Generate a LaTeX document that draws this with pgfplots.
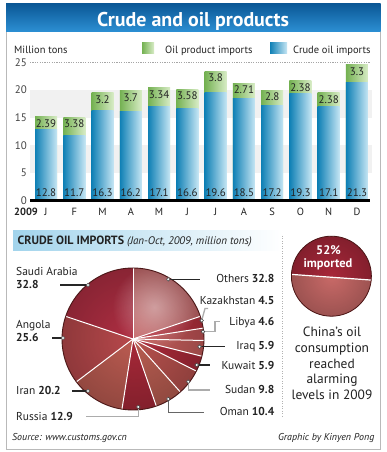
\documentclass[border=0pt]{standalone}
\usepackage{fontspec}
\setmainfont{PT Sans}
\usepackage{pgfplots}
\usepackage{pgfplotstable}
\pgfplotsset{compat=1.18}
\usetikzlibrary{fadings}
\definecolor{bannerTop}{HTML}{0B5896}
\definecolor{bannerBot}{HTML}{2C8FD3}
\definecolor{bL}{HTML}{0F80B5}
\definecolor{bM}{HTML}{52AFDA}
\definecolor{bR}{HTML}{C6E6F4}
\definecolor{gL}{HTML}{74B152}
\definecolor{gM}{HTML}{ACD58E}
\definecolor{gR}{HTML}{D8ECC6}
\definecolor{band}{HTML}{F1F1F1}
\definecolor{txt}{HTML}{222222}
\definecolor{hdr}{HTML}{A2D4EC}
\definecolor{pOth}{HTML}{C86A6C}
\definecolor{pKaz}{HTML}{B8323F}
\definecolor{pLib}{HTML}{C25457}
\definecolor{pIrq}{HTML}{C65E5C}
\definecolor{pKuw}{HTML}{AC2A3A}
\definecolor{pSud}{HTML}{B8524E}
\definecolor{pOma}{HTML}{BA5E52}
\definecolor{pRus}{HTML}{A82939}
\definecolor{pIra}{HTML}{BC5C52}
\definecolor{pAng}{HTML}{B8494C}
\definecolor{pSau}{HTML}{B02F43}
\definecolor{pEdge}{HTML}{4A1616}
\definecolor{spDark}{HTML}{A8283A}
\definecolor{spLight}{HTML}{C96A68}
\tikzfading[name=hl, inner color=transparent!60, outer color=transparent!100]
\tikzfading[name=rim, inner color=transparent!100, outer color=transparent!78]
\tikzset{px/.style={x=1bp,y=-1bp,yshift=452bp},
  bl/.style={line width=1.3bp, black!85},
  gl/.style={line width=1.3bp, gray!65},
  dot/.style={fill=white, draw=black!70, line width=0.6bp}}
\newcommand{\fs}[1]{\fontsize{#1}{#1}\selectfont}
\pgfplotstableread{
x crude prod
0 12.8 2.39
1 11.7 3.38
2 16.3 3.2
3 16.2 3.7
4 17.1 3.34
5 16.6 3.58
6 19.6 3.8
7 18.5 2.71
8 17.2 2.8
9 19.3 2.38
10 17.1 2.38
11 21.3 3.3
}\imports
\begin{document}
\begin{tikzpicture}
\path[use as bounding box] (0,0) rectangle (387bp,452bp);
\begin{scope}[px]
  \fill[white] (0,0) rectangle (387,452);
  \draw[gray!55, line width=0.8] (6,4) rectangle (380.5,449.5);
  \shade[top color=bannerTop, bottom color=bannerBot] (6,4) rectangle (380.5,31.5);
  \node[anchor=base, text=white, inner sep=0] at (193,26.5) {\fs{20}\bfseries Crude and oil products};
  \node[anchor=base west, inner sep=0, text=txt] at (14,53.3) {\fs{10.5}Million tons};
  \shade[left color=gL, right color=gR] (142,43) rectangle (154,54);
  \node[anchor=base west, inner sep=0, text=txt] at (165,53.3) {\fs{10.5}Oil product imports};
  \shade[left color=bL, right color=bR] (270,43) rectangle (287,54);
  \node[anchor=base west, inner sep=0, text=txt] at (293,53.3) {\fs{10.5}Crude oil imports};
  \fill[band] (30,145.3) rectangle (372,172.9);
  \fill[band] (30,90.1) rectangle (372,117.7);
  \draw[gray!70, dash pattern=on 1.2bp off 1.2bp, line width=0.6] (30,62.5) -- (370,62.5);
  \node[anchor=base west, inner sep=0, text=txt] at (14,215.5) {\fs{10.5}\bfseries 2009};
\end{scope}

\begin{axis}[
  at={(30bp,251.5bp)}, anchor=south west, scale only axis,
  width=340bp, height=138bp,
  xmin=-0.566, xmax=11.46, ymin=0, ymax=25,
  bar width=22bp, bar shift=0pt,
  axis line style={draw=none}, tick style={draw=none},
  xtick={0,...,11}, xticklabels={J,F,M,A,M,J,J,A,S,O,N,D},
  ytick={0,5,...,25},
  xticklabel style={anchor=base, yshift=-15bp, font=\fs{10.5}, text=txt},
  yticklabel style={anchor=east, inner sep=0pt, xshift=-3bp, font=\fs{11}, text=txt!85},
  /pgf/number format/assume math mode=true,
  clip=false,
]
\pgfplotsinvokeforeach{0,...,11}{
  \addplot[ybar, draw=none, left color=gL, middle color=gM, right color=gR,
    restrict x to domain=#1:#1]
    table[x=x, y expr=\thisrow{crude}+\thisrow{prod}] {\imports};
  \addplot[ybar, draw=none, left color=bL, middle color=bM, right color=bR,
    restrict x to domain=#1:#1]
    table[x=x, y=crude] {\imports};
}
\addplot[draw=none, mark=none, nodes near coords, point meta=explicit symbolic,
  every node near coord/.style={anchor=base, inner sep=0pt, font=\fs{11}, text=txt, yshift=4bp}]
  table[x=x, y expr=0, meta=crude] {\imports};
\addplot[draw=none, mark=none, nodes near coords, point meta=explicit symbolic,
  every node near coord/.style={anchor=north, inner sep=0pt, font=\fs{11}, text=txt, yshift=-2.5bp}]
  table[x=x, y expr=\thisrow{crude}+\thisrow{prod}, meta=prod] {\imports};
\end{axis}

\begin{scope}[px]
  \draw[black, line width=2.6] (30,200.5) -- (370,200.5);
  \shade[left color=hdr, right color=white] (13,231) rectangle (282,251);
  \node[anchor=base west, inner sep=0, text=txt] at (17.5,244.3) {\fs{12}\bfseries CRUDE OIL IMPORTS \fs{11}\mdseries\itshape (Jan-Oct, 2009, million tons)};
  \draw[gray!60, dash pattern=on 1bp off 1.5bp, line width=0.7] (282,236) -- (282,417);
\end{scope}

\begin{axis}[
  at={(133bp,113bp)}, anchor=center, hide axis,
  x=71bp, y=71bp, xmin=-1.1, xmax=1.1, ymin=-1.1, ymax=1.1, clip=false]
\pgfplotsextra{
  \foreach \v/\c [remember=\e as \s (initially 90)] in
   {32.8/pOth, 4.5/pKaz, 4.6/pLib, 5.9/pIrq, 5.9/pKuw, 9.8/pSud, 10.4/pOma, 12.9/pRus, 20.2/pIra, 25.6/pAng, 32.8/pSau} {
    \pgfmathsetmacro{\e}{\s-\v/165.4*360}
    \fill[\c] (axis cs:0,0) -- (axis cs:{cos(\s)},{sin(\s)}) arc[start angle=\s, end angle=\e, radius=71bp] -- cycle;
  }
  \fill[black, path fading=rim] (axis cs:0,0) circle[radius=71bp];
  \fill[white, path fading=hl] (axis cs:0.3,0.45) circle[radius=42bp];
  \foreach \v [remember=\e as \s (initially 90)] in
   {32.8, 4.5, 4.6, 5.9, 5.9, 9.8, 10.4, 12.9, 20.2, 25.6, 32.8} {
    \pgfmathsetmacro{\e}{\s-\v/165.4*360}
    \draw[white, line width=1bp] (axis cs:0,0) -- (axis cs:{cos(\s)},{sin(\s)});
  }
  \draw[pEdge, line width=0.9bp] (axis cs:0,0) circle[radius=71bp];
}
\end{axis}

\begin{scope}[px]
  \draw[bl] (60,285) -- (88,285);   \draw[dot] (88,285) circle[radius=1.8];
  \draw[bl] (52,338) -- (63,338);   \draw[dot] (63,338) circle[radius=1.8];
  \draw[bl] (72,391) -- (88,391);   \draw[dot] (88,391) circle[radius=1.8];
  \draw[gl] (86,416.7) -- (138.3,416.7) -- (138.3,407); \draw[dot] (138.3,407) circle[radius=1.8];
  \draw[gl,gray!80!black] (168.3,399) -- (168.3,412.7) -- (204,412.7); \draw[dot] (168.3,399) circle[radius=1.8];
  \draw[gl] (188.3,381.7) -- (188.3,390) -- (210,390); \draw[dot] (188.3,381.7) circle[radius=1.8];
  \draw[bl] (196.7,365) -- (210,365); \draw[dot] (196.7,365) circle[radius=1.8];
  \draw[bl] (199.5,346.7) -- (225,346.7); \draw[dot] (199.5,346.7) circle[radius=1.8];
  \draw[gl] (203,331.7) -- (215,331.7) -- (215,321.7) -- (219.5,321.7); \draw[dot] (203,331.7) circle[radius=1.8];
  \draw[gl] (201.7,320.5) -- (205,308.5) -- (208,308.5); \draw[dot] (201.7,320.5) circle[radius=1.8];
  \draw[bl] (168.3,279.3) -- (200,279.3); \draw[dot] (168.3,279.3) circle[radius=1.8];
  \node[anchor=base west, inner sep=0, text=txt] at (16,276) {\fs{11.5}Saudi Arabia};
  \node[anchor=base west, inner sep=0, text=txt] at (16,288.3) {\fs{11.5}\bfseries 32.8};
  \node[anchor=base west, inner sep=0, text=txt] at (16,328.3) {\fs{11.5}Angola};
  \node[anchor=base west, inner sep=0, text=txt] at (16,341.7) {\fs{11.5}\bfseries 25.6};
  \node[anchor=base west, inner sep=0, text=txt] at (16,394.3) {\fs{11.5}Iran \bfseries 20.2};
  \node[anchor=base west, inner sep=0, text=txt] at (16,421) {\fs{11.5}Russia \bfseries 12.9};
  \node[anchor=base east, inner sep=0, text=txt] at (274.5,282.7) {\fs{11.5}Others \bfseries 32.8};
  \node[anchor=base east, inner sep=0, text=txt] at (274.5,305) {\fs{11.5}Kazakhstan \bfseries 4.5};
  \node[anchor=base east, inner sep=0, text=txt] at (274.5,326) {\fs{11.5}Libya \bfseries 4.6};
  \node[anchor=base east, inner sep=0, text=txt] at (274.5,349.3) {\fs{11.5}Iraq \bfseries 5.9};
  \node[anchor=base east, inner sep=0, text=txt] at (274.5,370) {\fs{11.5}Kuwait \bfseries 5.9};
  \node[anchor=base east, inner sep=0, text=txt] at (274.5,393.3) {\fs{11.5}Sudan \bfseries 9.8};
  \node[anchor=base east, inner sep=0, text=txt] at (274.5,416) {\fs{11.5}Oman \bfseries 10.4};
  \begin{scope}
    \clip (331.4,276.2) circle[radius=40];
    \fill[spDark] (290,234) rectangle (373,320);
    \fill[spLight] (290,274.3) -- (373,280.2) -- (373,320) -- (290,320) -- cycle;
    \fill[black, path fading=rim] (331.4,276.2) circle[radius=40];
    \draw[white, line width=1.2] (290,274.3) -- (373,280.2);
  \end{scope}
  \draw[pEdge, line width=0.8] (331.4,276.2) circle[radius=40];
  \node[anchor=base, inner sep=0, text=white] at (328.5,254.8) {\fs{12.5}\bfseries 52\%};
  \node[anchor=base, inner sep=0, text=white] at (328,267.5) {\fs{12.5}\bfseries imported};
  \foreach \t/\y in {China’s oil/337, consumption/353, reached/368.3, alarming/384, levels in 2009/399.3}
    \node[anchor=base, inner sep=0, text=txt] at (332,\y) {\fs{13.5}\t};
  \node[anchor=base west, inner sep=0, text=txt] at (12,440.5) {\fs{10}\itshape Source: www.customs.gov.cn};
  \node[anchor=base east, inner sep=0, text=txt] at (374.5,440.5) {\fs{10}\itshape Graphic by Kinyen Pong};
\end{scope}
\end{tikzpicture}
\end{document}
